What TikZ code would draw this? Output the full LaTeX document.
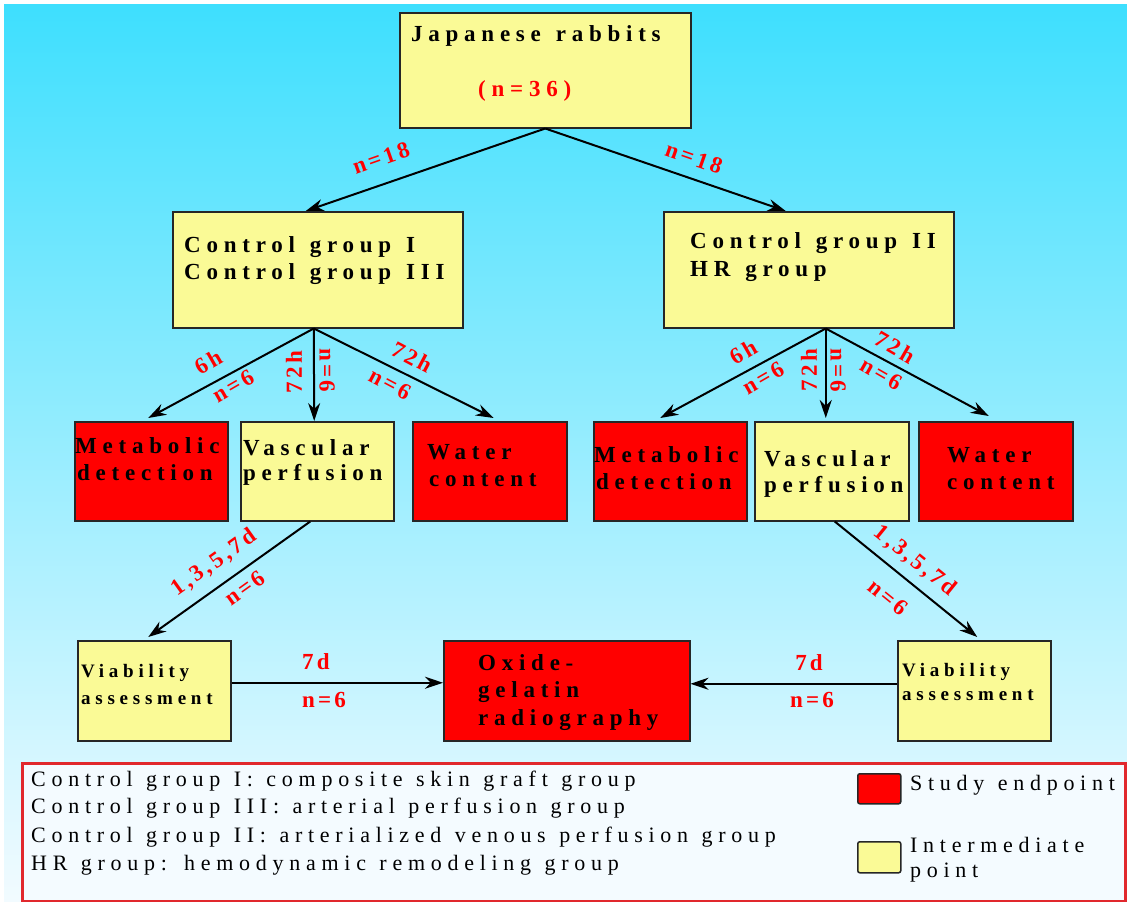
\documentclass[tikz,border=0pt]{standalone}
\usepackage{fontspec}
\setmainfont{Liberation Serif}
\newfontfamily\bxfont[LetterSpace=25,WordSpace=1.3]{Liberation Serif}
\newfontfamily\lbfont[LetterSpace=14]{Liberation Serif}
\newfontfamily\lgfont[LetterSpace=26,WordSpace=1.2]{Liberation Serif}
\usetikzlibrary{arrows.meta,calc}
\definecolor{bgtop}{RGB}{62,223,254}
\definecolor{bgbot}{RGB}{242,251,255}
\definecolor{yel}{RGB}{250,250,150}
\definecolor{rd}{RGB}{255,0,0}
\definecolor{lgfill}{RGB}{244,251,255}
\definecolor{lgline}{RGB}{225,40,45}
\tikzset{
  box/.style={draw=black!85, line width=1.5pt, anchor=north west, inner sep=0pt},
  ybox/.style={box, fill=yel},
  rbox/.style={box, fill=rd},
  txt/.style={font=\bxfont\bfseries\fontsize{23}{27}\selectfont, anchor=west, inner sep=0pt},
  stxt/.style={font=\bxfont\bfseries\fontsize{19}{23}\selectfont, anchor=west, inner sep=0pt},
  lbl/.style={font=\lbfont\bfseries\fontsize{23}{27}\selectfont, text=rd, inner sep=0pt},
  arr/.style={line width=2pt, -{Stealth[length=18pt,width=12pt]}},
  lgtxt/.style={font=\lgfont\fontsize{22}{26}\selectfont, anchor=west, inner sep=0pt},
}
\begin{document}
\begin{tikzpicture}[x=1pt,y=-1pt]
\useasboundingbox (0,0) rectangle (1127,902);
\fill[white] (0,0) rectangle (1127,902);
\fill[top color=bgtop, bottom color=bgbot] (4,4) rectangle (1127,902);

% boxes
\node[ybox, minimum width=291, minimum height=115] (J) at (399,12) {};
\node[ybox, minimum width=290, minimum height=116] (C1) at (172,211) {};
\node[ybox, minimum width=290, minimum height=116] (C2) at (663,211) {};
\node[rbox, minimum width=153, minimum height=99] (M1) at (74,421) {};
\node[ybox, minimum width=153, minimum height=99] (V1) at (240,421) {};
\node[rbox, minimum width=154, minimum height=99] (W1) at (412,421) {};
\node[rbox, minimum width=153, minimum height=99] (M2) at (593,421) {};
\node[ybox, minimum width=154, minimum height=99] (V2) at (754,421) {};
\node[rbox, minimum width=154, minimum height=99] (W2) at (918,421) {};
\node[ybox, minimum width=153, minimum height=100] (A1) at (77,640) {};
\node[rbox, minimum width=246, minimum height=100] (O) at (443,640) {};
\node[ybox, minimum width=153, minimum height=100] (A2) at (897,640) {};

% box texts
\node[txt] (tJ1) at (411,36) {Japanese rabbits};
\node[txt, text=rd] (tJ2) at (478,91) {(n=36)};
\node[txt] (tC1a) at (184,247) {Control group I};
\node[txt] (tC1b) at (184,274) {Control group III};
\node[txt] (tC2a) at (690,243) {Control group II};
\node[txt] (tC2b) at (690,272) {HR group};
\node[txt] (tM1a) at (75,446) {Metabolic};
\node[txt] (tM1b) at (77,473) {detection};
\node[txt] (tV1a) at (243,448) {Vascular};
\node[txt] (tV1b) at (243,475) {perfusion};
\node[txt] (tW1a) at (427,452) {Water};
\node[txt] (tW1b) at (429,480) {content};
\node[txt] (tM2a) at (594,455) {Metabolic};
\node[txt] (tM2b) at (596,482) {detection};
\node[txt] (tV2a) at (764,459) {Vascular};
\node[txt] (tV2b) at (764,487) {perfusion};
\node[txt] (tW2a) at (947,455) {Water};
\node[txt] (tW2b) at (947,483) {content};
\node[stxt] (tA1a) at (81,673) {Viability};
\node[stxt] (tA1b) at (81,699) {assessment};
\node[txt] (tOa) at (478,663) {Oxide-};
\node[txt] (tOb) at (478,692) {gelatin};
\node[txt] (tOc) at (478,720) {radiography};
\node[stxt] (tA2a) at (902,672) {Viability};
\node[stxt] (tA2b) at (902,695) {assessment};

% arrows
\draw[arr] (J.south) -- ($(C1.north)+(-12,0)$);
\draw[arr] (J.south) -- ($(C2.north)+(-23,0)$);
\draw[arr] ($(C1.south)+(-4,0)$) -- ($(M1.north)+(-3,-3)$);
\draw[arr] ($(C1.south)+(-4,0)$) -- ($(V1.north)+(-3,0)$);
\draw[arr] ($(C1.south)+(-4,0)$) -- ($(W1.north)+(4,-3)$);
\draw[arr] ($(C2.south)+(17,0)$) -- ($(M2.north)+(-10,-3)$);
\draw[arr] ($(C2.south)+(17,0)$) -- ($(V2.north)+(-6,-3)$);
\draw[arr] ($(C2.south)+(17,0)$) -- ($(W2.north)+(-7,-5)$);
\draw[arr] ($(V1.south)+(-7,0)$) -- ($(A1.north)+(-6,-3)$);
\draw[arr] ($(V2.south)+(3,0)$) -- ($(A2.north)+(3,-3)$);
\draw[arr] ($(A1.east)+(0,-8)$) -- ($(O.west)+(0,-8)$);
\draw[arr] ($(A2.west)+(0,-7)$) -- ($(O.east)+(0,-7)$);

% labels
\node[lbl, rotate=19.3] (l1) at (381,158) {n=18};
\node[lbl, rotate=-19.3] (l2) at (694,158) {n=18};
\node[lbl, rotate=30] (l3) at (208,362) {6h};
\node[lbl, rotate=30] (l4) at (233,386) {n=6};
\node[lbl, rotate=90] (l5) at (294,372) {72h};
\node[lbl, rotate=-90] (l6) at (327,370) {n=6};
\node[lbl, rotate=-28] (l7) at (412,357) {72h};
\node[lbl, rotate=-28] (l8) at (390,384) {n=6};
\node[lbl, rotate=30] (l9) at (743,352) {6h};
\node[lbl, rotate=30] (l10) at (763,378) {n=6};
\node[lbl, rotate=90] (l11) at (809,370) {72h};
\node[lbl, rotate=-90] (l12) at (838,370) {n=6};
\node[lbl, rotate=-30] (l13) at (895,347) {72h};
\node[lbl, rotate=-30] (l14) at (881,374) {n=6};
\node[lbl, rotate=35.6] (l15) at (214,563) {1,3,5,7d};
\node[lbl, rotate=35.6] (l16) at (245,588) {n=6};
\node[lbl, rotate=-39] (l17) at (915,561) {1,3,5,7d};
\node[lbl, rotate=-39] (l18) at (888,597) {n=6};
\node[lbl] (l19) at (316,662) {7d};
\node[lbl] (l20) at (324,700) {n=6};
\node[lbl] (l21) at (809,663) {7d};
\node[lbl] (l22) at (812,700) {n=6};

% legend
\draw[draw=lgline, line width=3pt, fill=lgfill] (22,763) rectangle (1125,901);
\node[lgtxt] (g1) at (31,781) {Control group I: composite skin graft group};
\node[lgtxt] (g2) at (31,808) {Control group III: arterial perfusion group};
\node[lgtxt] (g3) at (31,837) {Control group II: arterialized venous perfusion group};
\node[lgtxt] (g4) at (31,865) {HR group: hemodynamic remodeling group};
\node[rbox, rounded corners=2pt, minimum width=43, minimum height=30] (k1) at (857,773) {};
\node[ybox, rounded corners=2pt, minimum width=43, minimum height=31] (k2) at (857,841) {};
\node[lgtxt] (k1t) at (910,785) {Study endpoint};
\node[lgtxt] (k2t) at (910,845) {Intermediate};
\node[lgtxt] (k2u) at (910,873) {point};
\end{tikzpicture}
\end{document}
